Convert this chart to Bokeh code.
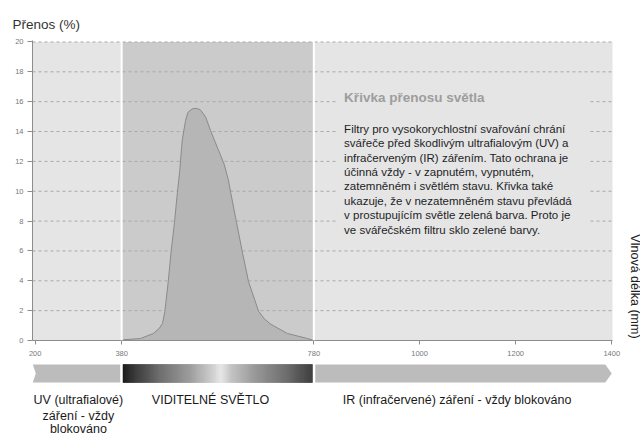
import numpy as np
from bokeh.plotting import figure
from bokeh.models import Range1d, FixedTicker, Span
from bokeh.layouts import column
from bokeh.embed import file_html
from bokeh.resources import INLINE
from bokeh.core.properties import value

# ---------------- data ----------------
wavelength = [380, 384, 419, 446, 458, 465, 470, 477, 483, 490, 496, 501, 506, 513, 518,
              527, 535, 544, 555, 565, 579, 593, 602, 607, 619, 631, 644, 665, 677, 690,
              725, 767, 780]
transmission = [0, 0.05, 0.13, 0.47, 0.8, 1.14, 1.96, 3.95, 5.96, 7.92, 9.91, 11.39, 13.4,
                14.74, 15.29, 15.52, 15.56, 15.45, 14.96, 14.07, 12.95, 11.84, 10.78,
                9.91, 7.92, 5.96, 3.95, 1.96, 1.45, 1.1, 0.47, 0.13, 0]
x_ticks = [200, 380, 780, 1000, 1200, 1400]
y_ticks = [0, 2, 4, 6, 8, 10, 12, 14, 16, 18, 20]
visible_band = [380, 780]
spectrum_bounds = [200, 1400]
y_max = 20

title_text = "Přenos (%)"
axis_title = "Vlnová délka (mm)"
box_title = "Křivka přenosu světla"
box_lines = [
    "Filtry pro vysokorychlostní svařování chrání",
    "svářeče před škodlivým ultrafialovým (UV) a",
    "infračerveným (IR) zářením. Tato ochrana je",
    "účinná vždy - v zapnutém, vypnutém,",
    "zatemněném i světlém stavu. Křivka také",
    "ukazuje, že v nezatemněném stavu převládá",
    "v prostupujícím světle zelená barva. Proto je",
    "ve svářečském filtru sklo zelené barvy.",
]
uv_label = ["UV (ultrafialové)", "záření - vždy", "blokováno"]
vis_label = "VIDITELNÉ SVĚTLO"
ir_label = "IR (infračervené) záření - vždy blokováno"
label_x = [290, 565, 1078]

# gradient stops (fraction across visible band, grey level)
grad_pos = [0.0, 0.063, 0.196, 0.354, 0.46, 0.519, 0.577, 0.698, 0.857, 1.0]
grad_lvl = [26, 60, 110, 154, 200, 230, 192, 149, 106, 58]

FONT = value("Liberation Sans")
BG = "#e5e5e6"

W = 640
LB = 32
X0, X1 = 194.5, 1401.5          # plotted chart area (left axis .. right end)
pxn = 580 / (X1 - X0)            # pixels per nm
XR = X0 + (W - LB) / pxn         # frame extends to the page edge for the side caption

# ---------------- main chart ----------------
p = figure(width=W, height=363, x_range=Range1d(X0, XR), y_range=Range1d(0, 20.1),
           title=title_text, output_backend="svg", toolbar_location=None,
           min_border_left=LB, min_border_right=0, min_border_top=40, min_border_bottom=23)
p.background_fill_color = "white"
p.border_fill_color = "white"
p.outline_line_color = None

p.title.align = "left"
p.title.offset = -20
p.title.standoff = 17
p.title.text_font = "Liberation Sans"
p.title.text_font_size = "13.5px"
p.title.text_font_style = "normal"
p.title.text_color = "#333333"

p.quad(left=[X0], right=[X1], bottom=[0], top=[y_max], fill_color=BG,
       line_color=None, level="image")
p.quad(left=[visible_band[0]], right=[visible_band[1]], bottom=[0], top=[y_max],
       fill_color="#cbcbcb", line_color=None, level="image")

# dashed horizontal grid, limited to the chart area
p.xgrid.visible = False
p.ygrid.visible = False
p.segment(x0=[X0] * len(y_ticks), x1=[X1] * len(y_ticks), y0=y_ticks, y1=y_ticks,
          line_color="#a8a8a8", line_dash="3 3", line_width=1)

# cover behind text box
p.quad(left=[829], right=[1351], bottom=[6.7], top=[17.3], fill_color=BG, line_color=None)

p.patch(wavelength, transmission, fill_color="#b6b6b6", line_color="#8a8a8a", line_width=1)

for loc in visible_band:
    p.add_layout(Span(location=loc, dimension="height", line_color="white", line_width=2))

p.xaxis.ticker = FixedTicker(ticks=x_ticks)
p.yaxis.ticker = FixedTicker(ticks=y_ticks)
p.xaxis.bounds = (X0, X1)
for ax in (p.xaxis[0], p.yaxis[0]):
    ax.axis_line_color = "#8c8c8c"
    ax.major_tick_line_color = "#8c8c8c"
    ax.minor_tick_line_color = None
    ax.major_tick_in = 0
    ax.major_label_text_font_size = "7.5px"
    ax.major_label_text_color = "#777777"
    ax.major_label_text_font = "Liberation Sans"
p.xaxis.major_tick_out = 4
p.xaxis.major_label_standoff = 6
p.yaxis.major_tick_out = 5
p.yaxis.major_label_standoff = 4

# side caption (reads top to bottom)
p.text(x=[X1 + 22 / pxn], y=[3.62], text=[axis_title], angle=-np.pi / 2, text_font=FONT,
       text_font_size="12.5px", text_color="#222222", text_align="center",
       text_baseline="middle")

# box text
p.text(x=[843], y=[16.3], text=[box_title], text_font=FONT, text_font_size="13.5px",
       text_font_style="bold", text_color="#9d9d9d", text_baseline="middle", text_align="left")
p.text(x=[843] * len(box_lines), y=[14.18 - 0.965 * i for i in range(len(box_lines))],
       text=box_lines, text_font=FONT, text_font_size="11.5px", text_color="#1e1e1e",
       text_baseline="middle", text_align="left")

# ---------------- spectrum band ----------------
p2 = figure(width=W, height=73, x_range=p.x_range, y_range=Range1d(73, 0),
            output_backend="svg", toolbar_location=None,
            min_border_left=LB, min_border_right=0, min_border_top=0, min_border_bottom=0,
            x_axis_type=None, y_axis_type=None)
p2.outline_line_color = None
p2.background_fill_color = "white"
p2.border_fill_color = "white"

gap = 1.4 / pxn
notch = 3 / pxn
arrow = 6.5 / pxn
top, bot, mid = 1, 19, 10
band_grey = "#bcbcbc"
left_edge = X0 + 0.3 / pxn
p2.patch([left_edge, visible_band[0] - gap, visible_band[0] - gap,
          left_edge, left_edge + notch],
         [top, top, bot, bot, mid], fill_color=band_grey, line_color=None)
p2.patch([visible_band[1] + gap, spectrum_bounds[1] - arrow, spectrum_bounds[1],
          spectrum_bounds[1] - arrow, visible_band[1] + gap],
         [top, top, mid, bot, bot], fill_color=band_grey, line_color=None)

n = 190
edges = np.linspace(visible_band[0] + gap, visible_band[1] - gap, n + 1)
fr = (np.arange(n) + 0.5) / n
lv = np.interp(fr, grad_pos, grad_lvl).astype(int)
cols = ["#%02x%02x%02x" % (v, v, v) for v in lv]
p2.quad(left=edges[:-1], right=edges[1:], top=top, bottom=bot, fill_color=cols,
        line_color=cols, line_width=0.6)

p2.text(x=[label_x[0]] * 3, y=[36, 52, 65], text=uv_label, text_font=FONT,
        text_font_size="12.5px", text_color="#1a1a1a", text_align="center", text_baseline="middle")
p2.text(x=label_x[1:], y=[36, 36], text=[vis_label, ir_label], text_font=FONT,
        text_font_size="12.5px", text_color="#1a1a1a", text_align="center", text_baseline="middle")

layout = column(p, p2, spacing=0)
open("out.html", "w").write(file_html(layout, INLINE))
